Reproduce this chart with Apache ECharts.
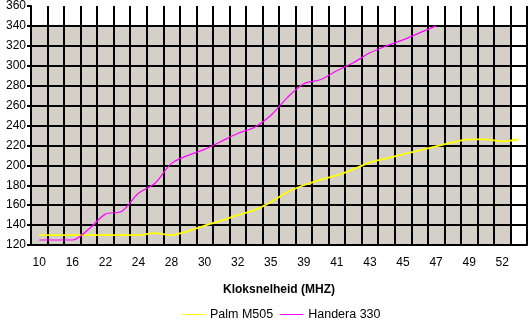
<!DOCTYPE html>
<html>
<head>
<meta charset="utf-8">
<script src="https://cdn.jsdelivr.net/npm/echarts@6/dist/echarts.min.js"></script>
<style>html,body{margin:0;padding:0;background:#fff}#c{width:528px;height:320px}</style>
</head>
<body>
<div id="c"></div>
<script>
const categories = ['10','13','16','19','22','23','24','26','28','29','30','31','32','33','35','37','39','40','41','42','43','44','45','46','47','48','49','50','52','53'];
const palmM505 = [130,130,130,130,130,130,130,132,130,134,139.5,144.5,150,155,163,173,180,185.5,190,196,203,207,211,215,219,223,226,226,224,226];
const handera330 = [125,125,125,136,151,154,172,182,202,210,216,224,232,238,250,268,282,286,295,303,313,320,326,333,340,null,null,null,null,null];
const wallTop = [340,340,340,340,340,340,340,340,340,340,340,340,340,340,340,340,340,340,340,340,340,340,340,340,340,340,340,340,340,null];
const yTicks = {min:120, max:360, step:20};
const xTitle = 'Kloksnelheid (MHZ)';
const seriesNames = ['Palm M505','Handera 330'];

const font = 'Liberation Sans, Arial, sans-serif';
const chart = echarts.init(document.getElementById('c'), null, {renderer:'canvas'});
chart.setOption({
  animation:false,
  backgroundColor:'#fff',
  grid:{left:31, top:5, right:1, bottom:75, containLabel:false},
  legend:{
    left:177, top:303, itemWidth:23, itemHeight:1, itemGap:7,
    icon:'rect',
    textStyle:{fontFamily:font, fontSize:12.5, color:'#000'},
    data:seriesNames
  },
  xAxis:{
    type:'category', data:categories, boundaryGap:true, z:3,
    name:xTitle, nameLocation:'middle', nameGap:39,
    nameTextStyle:{fontFamily:font, fontSize:12, fontWeight:'bold', color:'#000'},
    axisLine:{lineStyle:{color:'#000', width:2}},
    axisTick:{interval:0, length:4, lineStyle:{color:'#000', width:2}},
    axisLabel:{interval:1, margin:12, fontFamily:font, fontSize:12, color:'#000'},
    splitLine:{show:true, interval:0, lineStyle:{color:'#000', width:2}}
  },
  yAxis:{
    type:'value', min:yTicks.min, max:yTicks.max, interval:yTicks.step, z:3,
    axisLine:{show:true, lineStyle:{color:'#000', width:2}},
    axisTick:{show:true, length:4, lineStyle:{color:'#000', width:2}},
    axisLabel:{margin:5, fontFamily:font, fontSize:12, color:'#000'},
    splitLine:{show:true, showMaxLine:false, lineStyle:{color:'#000', width:2}}
  },
  series:[
    {type:'bar', data:wallTop, barCategoryGap:'0%', barGap:'0%', z:1, silent:true,
     itemStyle:{color:'#D4D0C8'}, clip:true, legendHoverLink:false},
    {name:seriesNames[0], type:'line', data:palmM505, smooth:0.3, symbol:'none', z:5,
     itemStyle:{color:'#FFFF00'}, lineStyle:{color:'#FFFF00', width:1.8}},
    {name:seriesNames[1], type:'line', data:handera330, smooth:0.3, symbol:'none', z:5,
     itemStyle:{color:'#FF00FF'}, lineStyle:{color:'#FF00FF', width:1.2}}
  ]
});
</script>
</body>
</html>
